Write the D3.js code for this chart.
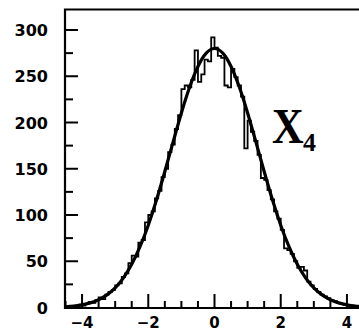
<!DOCTYPE html>
<html>
<head>
<meta charset="utf-8">
<script src="https://cdn.jsdelivr.net/npm/d3@7"></script>
<style>
  html, body { margin: 0; padding: 0; background: #fff; }
  svg { display: block; }
</style>
</head>
<body>
<svg id="chart" width="359" height="331"></svg>
<script>
// ---- data ----
const binStart = -4.5;
const binWidth = 0.1;
const histCounts = [
  0, 1, 1, 2, 3, 2, 4, 6, 5, 8,
  11, 9, 14, 17, 19, 24, 26, 33, 37, 48,
  56, 55, 70, 73, 92, 100, 104, 118, 126, 141,
  150, 168, 176, 193, 208, 236, 240, 238, 246, 278,
  244, 252, 268, 266, 292, 281, 272, 270, 240, 238,
  258, 249, 240, 228, 172, 202, 190, 180, 165, 140,
  138, 127, 117, 104, 96, 84, 64, 62, 58, 50,
  43, 44, 40, 28, 24, 20, 17, 14, 12, 10,
  8, 7, 5, 4, 3, 2, 2, 1, 1, 0
];
const fitX = [-4.5, -4.25, -4, -3.75, -3.5, -3.25, -3, -2.75, -2.5, -2.25, -2, -1.75, -1.5, -1.25, -1, -0.75, -0.5, -0.25, 0,
              0.25, 0.5, 0.75, 1, 1.25, 1.5, 1.75, 2, 2.25, 2.5, 2.75, 3, 3.25, 3.5, 3.75, 4, 4.25, 4.5];
const fitY = [0.8, 1.6, 2.9, 5.0, 8.4, 13.6, 21.2, 32.1, 46.7, 65.7, 89, 116.4, 147, 178.9, 210.3, 238.3, 260.6, 275, 280,
              275, 260.6, 238.3, 210.3, 178.9, 147, 116.4, 89, 65.7, 46.7, 32.1, 21.2, 13.6, 8.4, 5.0, 2.9, 1.6, 0.8];
const xTickLabels = ["\u22124", "\u22122", "0", "2", "4"];
const xTickValues = [-4, -2, 0, 2, 4];
const yTickValues = [0, 50, 100, 150, 200, 250, 300];
const yTickLabels = ["0", "50", "100", "150", "200", "250", "300"];
const label = "X";
const labelSub = "4";

// ---- layout ----
const svg = d3.select("#chart");
const x = d3.scaleLinear().domain([-4.5, 4.5]).range([65.5, 363.5]);
const y = d3.scaleLinear().domain([0, 300]).range([307.5, 30]);
const frameTop = 9.5, frameLeft = 65, frameBottom = 308, frameRight = 364;

svg.append("clipPath").attr("id", "clip")
  .append("rect").attr("x", frameLeft).attr("y", frameTop)
  .attr("width", frameRight - frameLeft).attr("height", frameBottom - frameTop);

const plot = svg.append("g").attr("clip-path", "url(#clip)");

// histogram step line
const pts = histCounts.map((v, i) => [binStart + i * binWidth, v]);
pts.push([binStart + histCounts.length * binWidth, histCounts[histCounts.length - 1]]);
plot.append("path")
  .attr("d", d3.line().x(d => x(d[0])).y(d => y(d[1])).curve(d3.curveStepAfter)(pts))
  .attr("fill", "none").attr("stroke", "#000").attr("stroke-width", 1.8);

// fitted curve
plot.append("path")
  .attr("d", d3.line().x((d, i) => x(fitX[i])).y(d => y(d)).curve(d3.curveNatural)(fitY))
  .attr("fill", "none").attr("stroke", "#000").attr("stroke-width", 3.2);

// frame (left, top, bottom)
svg.append("path")
  .attr("d", `M${frameRight},${frameTop}H${frameLeft}V${frameBottom}H${frameRight}`)
  .attr("fill", "none").attr("stroke", "#000").attr("stroke-width", 2.2);

// x ticks
const xMinor = d3.range(-4.5, 4.51, 0.5);
svg.append("g").selectAll("line").data(xMinor).join("line")
  .attr("x1", d => x(d)).attr("x2", d => x(d))
  .attr("y1", frameBottom).attr("y2", d => frameBottom - (Math.abs(d % 2) < 1e-9 ? 14 : 7))
  .attr("stroke", "#000").attr("stroke-width", 2);

// y ticks
const yMinor = d3.range(0, 301, 25);
svg.append("g").selectAll("line").data(yMinor).join("line")
  .attr("y1", d => y(d)).attr("y2", d => y(d))
  .attr("x1", frameLeft).attr("x2", d => frameLeft + (d % 50 === 0 ? 13 : 8))
  .attr("stroke", "#000").attr("stroke-width", 2);

// tick labels
const tickFont = "DejaVu Sans, sans-serif";
svg.append("g").selectAll("text").data(yTickValues).join("text")
  .attr("x", 48).attr("y", d => y(d) + 6)
  .attr("text-anchor", "end")
  .attr("font-family", tickFont).attr("font-weight", "bold").attr("font-size", 16)
  .text((d, i) => yTickLabels[i]);

svg.append("g").selectAll("text").data(xTickValues).join("text")
  .attr("x", d => x(d)).attr("y", 328)
  .attr("text-anchor", "middle")
  .attr("font-family", tickFont).attr("font-weight", "bold").attr("font-size", 15)
  .text((d, i) => xTickLabels[i]);

// label X_4
svg.append("text")
  .attr("transform", "translate(272,143) scale(0.86,1)")
  .attr("font-family", "Liberation Serif, serif").attr("font-weight", "bold").attr("font-size", 51)
  .text(label);
svg.append("text")
  .attr("x", 303).attr("y", 151)
  .attr("font-family", "Liberation Serif, serif").attr("font-weight", "bold").attr("font-size", 26)
  .text(labelSub);
</script>
</body>
</html>
